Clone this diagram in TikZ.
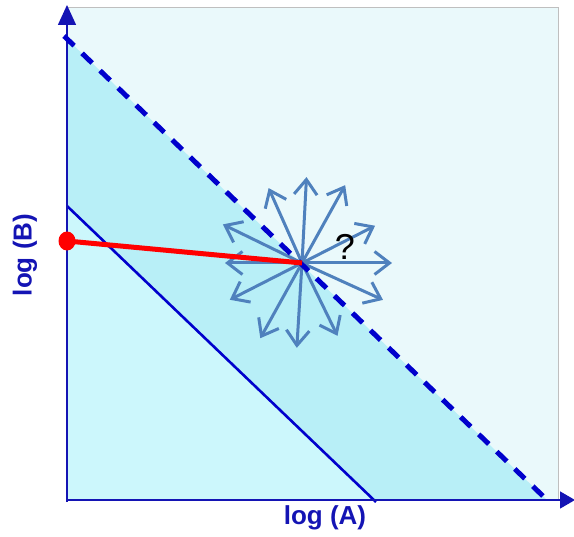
\documentclass[tikz,border=0pt]{standalone}
\usepackage{fontspec}
\setmainfont{Liberation Sans}
\usetikzlibrary{arrows.meta,positioning,calc}
\definecolor{axisblue}{HTML}{1414B4}
\definecolor{lineblue}{HTML}{0000CC}
\definecolor{steel}{HTML}{4F81BD}
\definecolor{pale}{HTML}{EAF9FB}
\definecolor{mid}{HTML}{B8EFF7}
\definecolor{low}{HTML}{CCF7FC}
\begin{document}
\begin{tikzpicture}[x=1pt,y=1pt,
 axis/.style={draw=axisblue,line width=1.5pt},
 ray/.style={-{Straight Barb[length=15pt,width=23pt]},draw=steel,line width=3pt},
 lbl/.style={font=\bfseries\fontsize{26}{26}\selectfont,text=axisblue,inner sep=0pt}]
\useasboundingbox (0,0) rectangle (574,537);
% regions of the plane
\coordinate (O) at (67,37);
\fill[pale] (O) rectangle (558,530);
\draw[black!25,line width=.6pt] (67,530) -- (558,530) -- (558,37);
\fill[mid] (67,498) -- (547,37) -- (O) -- cycle;
\fill[low] (67,331) -- (374,37) -- (O) -- cycle;
% boundary lines
\coordinate (d1) at (64,501);\coordinate (d2) at (545,39);
\coordinate (s1) at (67,331);\coordinate (s2) at (376,35);
\draw[lineblue,line width=2.6pt] (s1)--(s2);
% axes
\coordinate (ytip) at (67,532);\coordinate (xtip) at (575,37);
\draw[axis,-{Triangle[length=20pt,width=18pt]}] (67,35)--(ytip);
\draw[axis,-{Triangle[length=15pt,width=17pt]}] (O)--(xtip);
% star of directions
\coordinate (c) at (302,274);
\foreach \a/\r [count=\i] in {87/86,61/89,27/82,0/90,-24.5/89,-64/81,-93.5/85,-119/86,-153/81,180/77,154/88,114/82}
  \coordinate (t\i) at ($(c)+(\a:\r)$);
\foreach \i in {1,...,12} \draw[ray] (c)--(t\i);
\draw[lineblue,line width=5pt,dash pattern=on 14pt off 11pt] (d1)--(d2);
% path from the axis
\coordinate (p0) at (67,296);
\draw[red,line width=5pt] (p0)--(c);
\fill[red] (p0) ellipse (8.5pt and 9.5pt);
\node[font=\fontsize{36}{36}\selectfont,inner sep=0pt] (q) at (345,290) {?};
% axis labels
\node[lbl,rotate=90] (logb) at (25,282) {log (B)};
\node[lbl] (loga) at (325,19) {log (A)};
\end{tikzpicture}
\end{document}
